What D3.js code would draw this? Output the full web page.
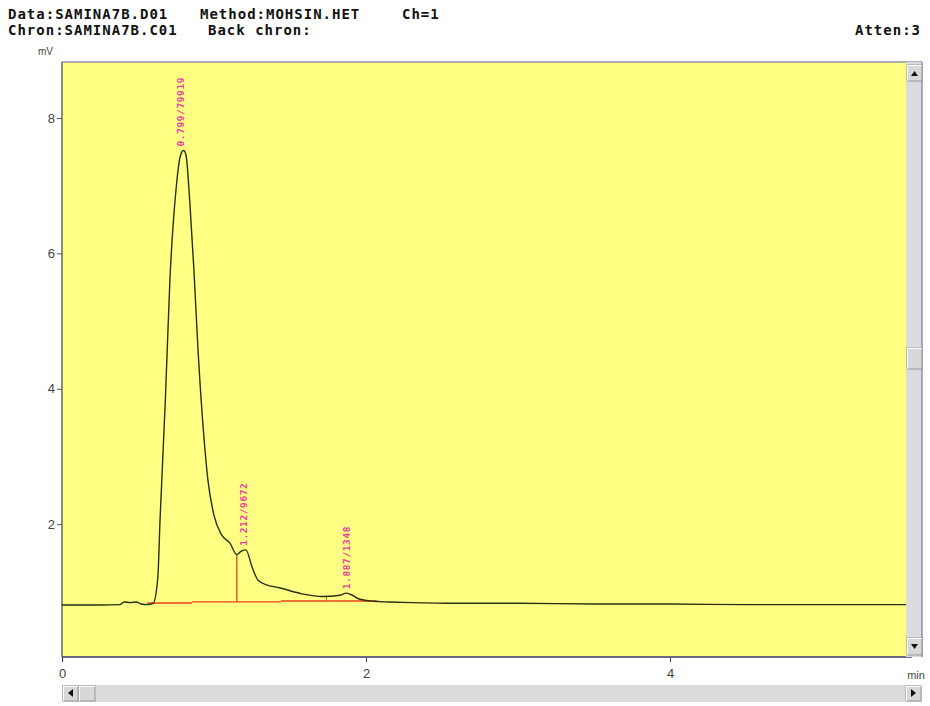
<!DOCTYPE html>
<meta charset="utf-8">
<style>
  body { margin: 0; background: #fff; }
  .hdr { font-family: "DejaVu Sans Mono", monospace; font-weight: bold; font-size: 14px; letter-spacing: 1px; fill: #111; }
  .tick { font-family: "Liberation Sans", Arial, sans-serif; font-size: 13px; fill: #444; }
  .plab { font-family: "DejaVu Sans Mono", monospace; font-weight: bold; font-size: 9.5px; letter-spacing: 0.6px; fill: #ee3d9c; }
</style>
<body>
<svg width="930" height="706"></svg>
<script src="https://d3js.org/d3.v7.min.js"></script>
<script>

// chromatogram trace (time in min, signal in mV)
var times = [0, 0.25, 0.38, 0.41, 0.45, 0.49, 0.52, 0.56, 0.6, 0.63, 0.645, 0.68, 0.71, 0.75, 0.78, 0.8,
  0.816, 0.84, 0.868, 0.895, 0.93, 0.96, 1.0, 1.05, 1.105, 1.15, 1.18, 1.21, 1.25, 1.29, 1.35,
  1.43, 1.58, 1.71, 1.83, 1.87, 1.9, 1.96, 2.05, 2.15, 2.3, 2.6, 3.0, 3.5, 4.0, 4.5, 5.0, 5.59];
var mv = [0.805, 0.805, 0.81, 0.85, 0.84, 0.85, 0.82, 0.81, 0.83, 1.2, 2.06, 3.84, 5.61, 6.94, 7.45, 7.52,
  7.45, 6.79, 5.75, 4.57, 3.39, 2.65, 2.13, 1.84, 1.72, 1.55, 1.6, 1.62, 1.37, 1.17, 1.1,
  1.06, 0.97, 0.93, 0.95, 0.98, 0.96, 0.89, 0.86, 0.85, 0.84, 0.83, 0.83, 0.82, 0.82, 0.81, 0.81, 0.81];

// peak labels: retention time / area
var peakTimes = [0.799, 1.212, 1.887];
var peakLabels = ["0.799/79919", "1.212/9672", "1.887/1348"];
var peakTops = [7.52, 1.62, 0.98];

// integration baselines [t1, v1, t2, v2] and the drop line between peaks
var baseSegs = [[0.56, 0.835, 0.855, 0.835], [0.855, 0.85, 1.44, 0.85], [1.44, 0.864, 2.07, 0.864]];
var dropTime = 1.15, dropFrom = 0.85, dropTo = 1.55;

var xTicks = [0, 2, 4];
var yTicks = [2, 4, 6, 8];

const svg = d3.select('svg');
const L = 62, T = 62, R = 906, B = 657;

const x = d3.scaleLinear().domain([0, 4]).range([L, 670]);
const y = d3.scaleLinear().domain([0, 8]).range([659.5, 118]);

// header
const hdr = [
  ["Data:SAMINA7B.D01", 8, 19, "start"], ["Method:MOHSIN.HET", 200, 19, "start"], ["Ch=1", 402, 19, "start"],
  ["Chron:SAMINA7B.C01", 8, 35, "start"], ["Back chron:", 208, 35, "start"], ["Atten:3", 921, 35, "end"]
];
svg.selectAll('.hdr').data(hdr).enter().append('text')
  .attr('class', 'hdr').attr('x', d => d[1]).attr('y', d => d[2])
  .attr('text-anchor', d => d[3]).text(d => d[0]);

svg.append('text').attr('class', 'tick').attr('x', 38).attr('y', 55)
  .style('font-size', '10px').text('mV');

// plot background
svg.append('rect').attr('x', L).attr('y', T).attr('width', R - L).attr('height', B - T)
  .attr('fill', '#ffff84');
svg.append('line').attr('x1', L).attr('x2', R + 16).attr('y1', T).attr('y2', T)
  .attr('stroke', '#5a5a9a').attr('stroke-width', 1.2);

// y axis
const gy = svg.append('g').attr('transform', `translate(${L},0)`)
  .call(d3.axisLeft(y).tickValues(yTicks).tickSize(5).tickFormat(d3.format('d')));
gy.select('.domain').remove();
gy.append('line').attr('x1', 0).attr('x2', 0).attr('y1', T).attr('y2', B).attr('stroke', '#666').attr('stroke-width', 1.5);
gy.selectAll('.tick line').attr('stroke', '#555');
gy.selectAll('.tick text').attr('class', null).attr('fill', '#444')
  .style('font-family', '"Liberation Sans", Arial, sans-serif').style('font-size', '13px').attr('x', -7);

// x axis
const gx = svg.append('g').attr('transform', `translate(0,${B})`)
  .call(d3.axisBottom(x).tickValues(xTicks).tickSize(5).tickFormat(d3.format('d')));
gx.select('.domain').remove();
gx.append('line').attr('x1', L).attr('x2', 912).attr('y1', 0).attr('y2', 0).attr('stroke', '#3a3a7a').attr('stroke-width', 1.5);
gx.selectAll('.tick line').attr('stroke', '#3a3a7a');
gx.selectAll('.tick text').attr('fill', '#444')
  .style('font-family', '"Liberation Sans", Arial, sans-serif').style('font-size', '13px').attr('y', 12);
svg.append('text').attr('class', 'tick').attr('x', 916).attr('y', 679)
  .attr('text-anchor', 'middle').style('font-size', '11px').text('min');

// baselines (red)
svg.selectAll('.base').data(baseSegs).enter().append('line')
  .attr('x1', d => x(d[0])).attr('y1', d => y(d[1]))
  .attr('x2', d => x(d[2])).attr('y2', d => y(d[3]))
  .attr('stroke', '#ec4218').attr('stroke-width', 1.3);
svg.append('line').attr('x1', x(dropTime)).attr('x2', x(dropTime))
  .attr('y1', y(dropFrom)).attr('y2', y(dropTo))
  .attr('stroke', '#ec4218').attr('stroke-width', 1.3);
svg.append('line').attr('x1', x(1.74)).attr('x2', x(1.74))
  .attr('y1', y(0.86)).attr('y2', y(0.93))
  .attr('stroke', '#c06040').attr('stroke-width', 1);

// trace
const pts = times.map((t, i) => [t, mv[i]]);
svg.append('path').datum(pts)
  .attr('d', d3.line().x(d => x(d[0])).y(d => y(d[1])).curve(d3.curveMonotoneX))
  .attr('fill', 'none').attr('stroke', '#26300f').attr('stroke-width', 1.4);

// peak labels
peakTimes.forEach((t, i) => {
  const px = x(t) - 2, py = y(peakTops[i]) - 4;
  svg.append('text').attr('class', 'plab')
    .attr('transform', `translate(${px + 3},${py}) rotate(-90)`)
    .text(peakLabels[i]);
});

// vertical scrollbar
const sb = svg.append('g');
sb.append('rect').attr('x', R).attr('y', T).attr('width', 16).attr('height', B - T).attr('fill', '#dcdcdc');
sb.append('line').attr('x1', R + 16).attr('x2', R + 16).attr('y1', T).attr('y2', B).attr('stroke', '#5a5a9a');
function button(g, bx, by, w, h) {
  g.append('rect').attr('x', bx).attr('y', by).attr('width', w).attr('height', h)
    .attr('fill', '#d8d8d8').attr('stroke', '#888').attr('stroke-width', 0.8);
  g.append('line').attr('x1', bx + 0.5).attr('x2', bx + w).attr('y1', by + 0.5).attr('y2', by + 0.5).attr('stroke', '#fff');
  g.append('line').attr('x1', bx + 0.5).attr('x2', bx + 0.5).attr('y1', by).attr('y2', by + h).attr('stroke', '#fff');
}
button(sb, R + 1, 65, 15, 16);
sb.append('path').attr('d', `M${R + 5},76 L${R + 12},76 L${R + 8.5},71 Z`).attr('fill', '#111');
button(sb, R + 1, 348, 15, 21);
button(sb, R + 1, 638, 15, 17);
sb.append('path').attr('d', `M${R + 5},644 L${R + 12},644 L${R + 8.5},649 Z`).attr('fill', '#111');

// horizontal scrollbar
const hb = svg.append('g');
hb.append('rect').attr('x', L).attr('y', 685).attr('width', 922 - L).attr('height', 17).attr('fill', '#dcdcdc');
button(hb, L + 1, 686, 15, 15);
hb.append('path').attr('d', `M${L + 11},689 L${L + 11},697 L${L + 6},693 Z`).attr('fill', '#111');
button(hb, L + 17, 686, 16, 15);
button(hb, 906, 686, 15, 15);
hb.append('path').attr('d', `M911,689 L911,697 L916,693 Z`).attr('fill', '#111');

</script>
</body>
